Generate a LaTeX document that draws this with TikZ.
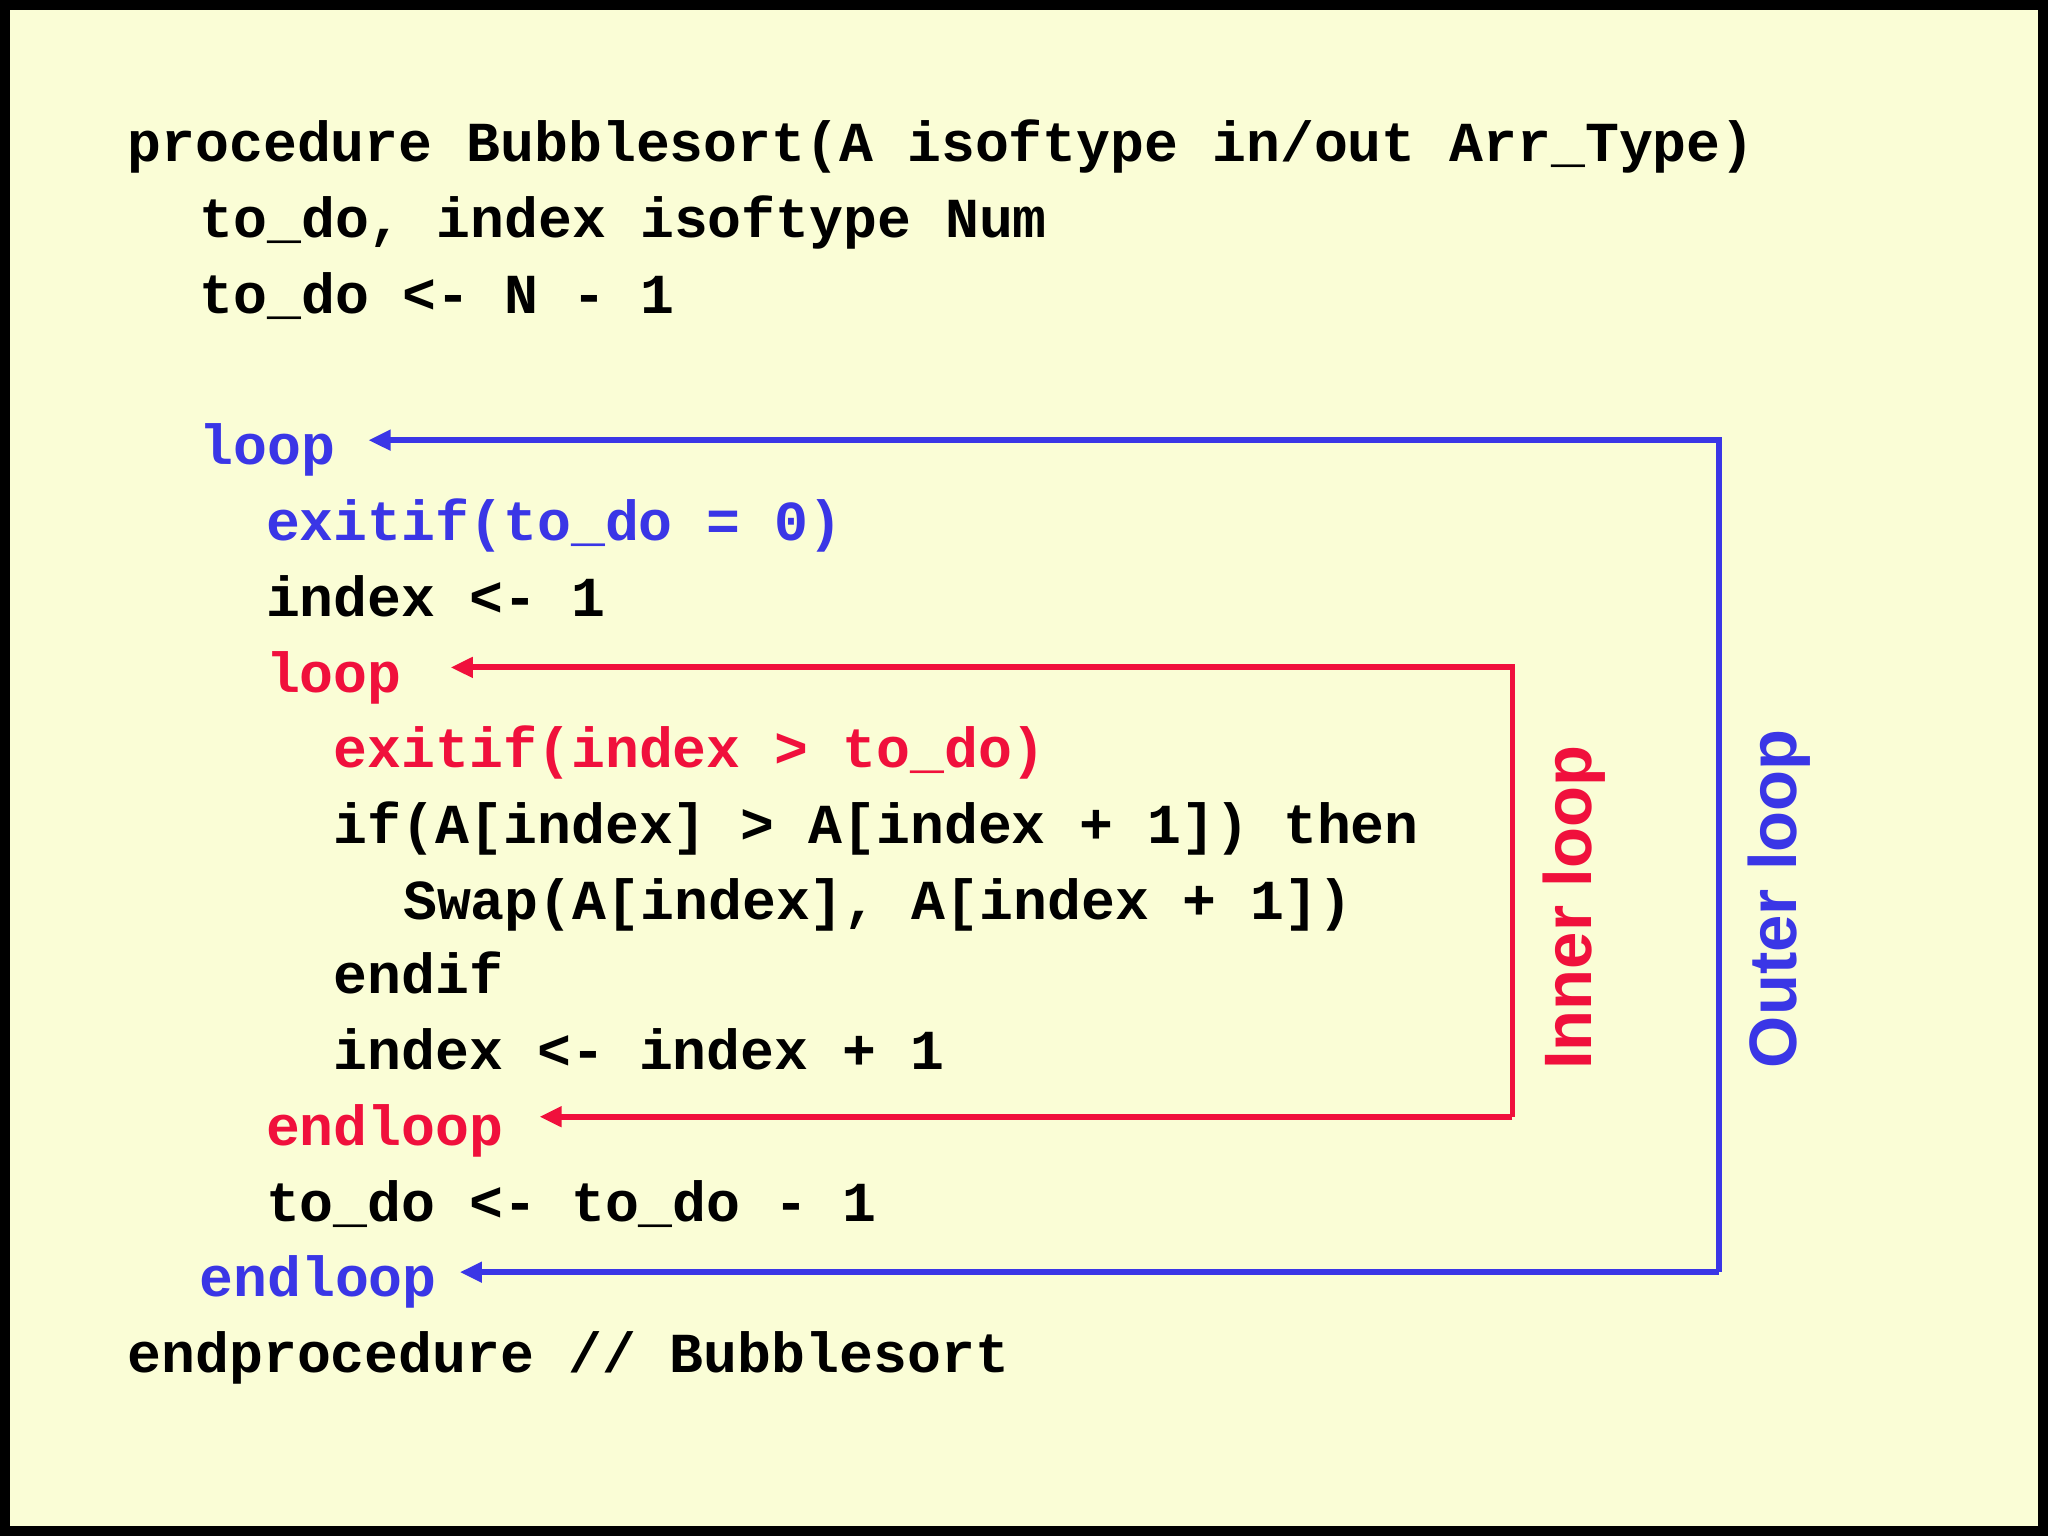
\documentclass[tikz,border=0pt]{standalone}
\usepackage{fontspec}
\setmonofont{Liberation Mono}
\setsansfont{Liberation Sans}
\usetikzlibrary{arrows.meta}
\definecolor{bg}{HTML}{FAFDD6}
\definecolor{cblue}{HTML}{3A36E6}
\definecolor{cred}{HTML}{F0103C}
\tikzset{
 code/.style={anchor=base west,inner sep=0pt,font=\ttfamily\bfseries\fontsize{12.3pt}{14pt}\selectfont},
 lbl/.style={rotate=90,inner sep=0pt,font=\sffamily\bfseries\fontsize{14.6pt}{16pt}\selectfont},
 conn/.style={line width=0.045cm,-{Triangle[length=0.17cm,width=0.15cm]}},
}
\begin{document}
\begin{tikzpicture}[x=0.01cm,y=-0.01cm]
\fill[black] (0,0) rectangle (1568,1176);
\fill[bg] (8,8) rectangle (1560,1168);
\useasboundingbox (0,0) rectangle (1568,1176);
\node[code] (l1) at (97,124) {procedure Bubblesort(A isoftype in/out Arr\_Type)};
\node[code] (l2) at (152,182) {to\_do, index isoftype Num};
\node[code] (l3) at (152,240) {to\_do <- N - 1};
\node[code,text=cblue] (ol) at (152,356) {loop};
\node[code,text=cblue] (l5) at (203,414) {exitif(to\_do = 0)};
\node[code] (l6) at (203,472) {index <- 1};
\node[code,text=cred] (il) at (203,530) {loop};
\node[code,text=cred] (l8) at (255,588) {exitif(index > to\_do)};
\node[code] (l9) at (255,646) {if(A[index] > A[index + 1]) then};
\node[code] (l10) at (308,704) {Swap(A[index], A[index + 1])};
\node[code] (l11) at (255,761) {endif};
\node[code] (l12) at (255,819) {index <- index + 1};
\node[code,text=cred] (iel) at (203,877) {endloop};
\node[code] (l14) at (203,935) {to\_do <- to\_do - 1};
\node[code,text=cblue] (oel) at (152,993) {endloop};
\node[code] (l16) at (97,1051) {endprocedure // Bubblesort};
\node[lbl,text=cred] (inl) at (1205,695) {Inner loop};
\node[lbl,text=cblue] (outl) at (1362,688) {Outer loop};
\coordinate (ot) at (1316,337); \coordinate (ob) at (1316,974);
\coordinate (it) at (1158,511); \coordinate (ib) at (1158,855);
\coordinate (otip) at (282,337); \coordinate (obtip) at (352,974);
\coordinate (itip) at (345,511); \coordinate (ibtip) at (413,855);
\draw[conn,cblue] (ob) -- (ot) -- (otip);
\draw[conn,cblue] (ob) -- (obtip);
\draw[conn,cred] (ib) -- (it) -- (itip);
\draw[conn,cred] (ib) -- (ibtip);
\end{tikzpicture}
\end{document}
